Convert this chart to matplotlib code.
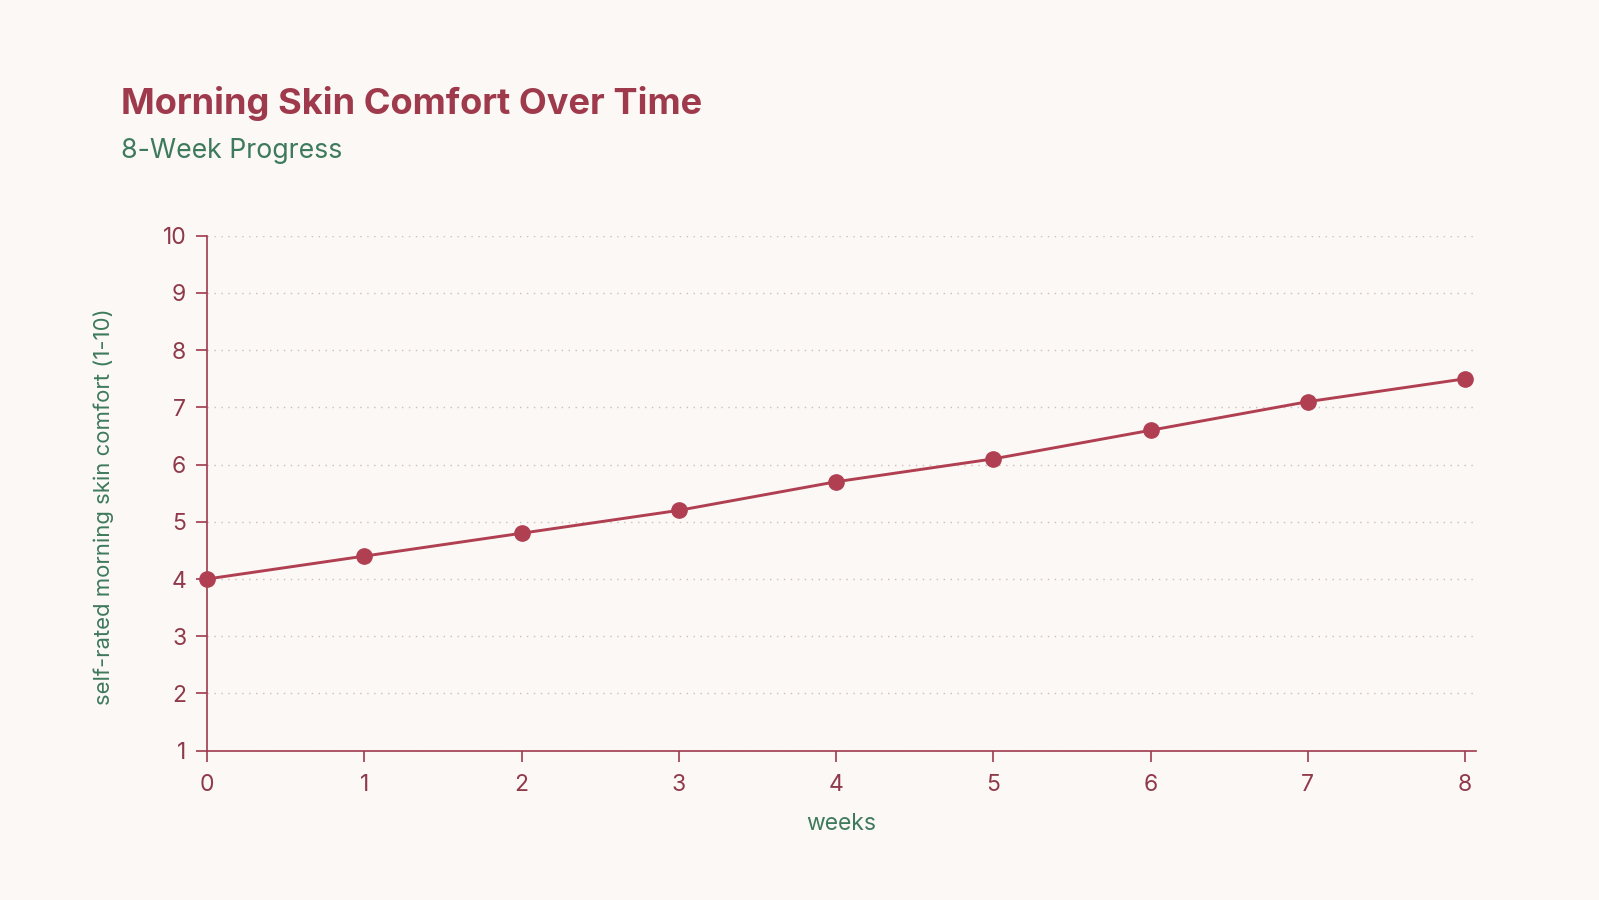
import numpy as np
import matplotlib.pyplot as plt

# weekly self-rated comfort scores
weeks = [0, 1, 2, 3, 4, 5, 6, 7, 8]
comfort = [4.0, 4.4, 4.8, 5.2, 5.7, 6.1, 6.6, 7.1, 7.5]
y_ticks = [1, 2, 3, 4, 5, 6, 7, 8, 9, 10]

bg = '#fcf8f5'
red = '#9e3a4b'
tick_red = '#8f3a4a'
line_red = '#b03f52'
green = '#3e7a5c'

plt.rcParams['font.family'] = ['Inter', 'DejaVu Sans']

fig = plt.figure(figsize=(15.99, 9), dpi=100, facecolor=bg)
ax = fig.add_axes([0.1295, 0.166, 0.7936, 0.572], facecolor=bg)

ax.plot(weeks, comfort, color=line_red, linewidth=2.1, marker='o',
        markersize=11, markerfacecolor=line_red, markeredgecolor=line_red,
        clip_on=False, zorder=3)

ax.set_xlim(0, 8.07)
ax.set_ylim(1, 10)
ax.set_xticks(weeks)
ax.set_yticks(y_ticks)

ax.grid(axis='y', linestyle=(0, (1, 4)), color='#c9bfbc', linewidth=1)
ax.set_axisbelow(True)

for side in ['top', 'right']:
    ax.spines[side].set_visible(False)
for side in ['left', 'bottom']:
    ax.spines[side].set_color(red)
    ax.spines[side].set_linewidth(1.2)

ax.tick_params(axis='both', colors=red, labelsize=16.5, length=8, width=1.2,
               labelcolor=tick_red)
ax.tick_params(axis='x', pad=9)
ax.tick_params(axis='y', pad=7)

ax.set_xlabel('weeks', color=green, fontsize=16.5)
ax.set_ylabel('self-rated morning skin comfort (1-10)', color=green,
              fontsize=15.9)
ax.xaxis.set_label_coords(0.5, -0.121)
ax.yaxis.set_label_coords(-0.0735, 0.474)

fig.text(0.0758, 0.873, 'Morning Skin Comfort Over Time', color=red,
         fontsize=26.1, fontweight='bold', va='baseline')
fig.text(0.0758, 0.824, '8-Week Progress', color=green, fontsize=19.2,
         va='baseline')

plt.savefig('out.png', facecolor=bg)
